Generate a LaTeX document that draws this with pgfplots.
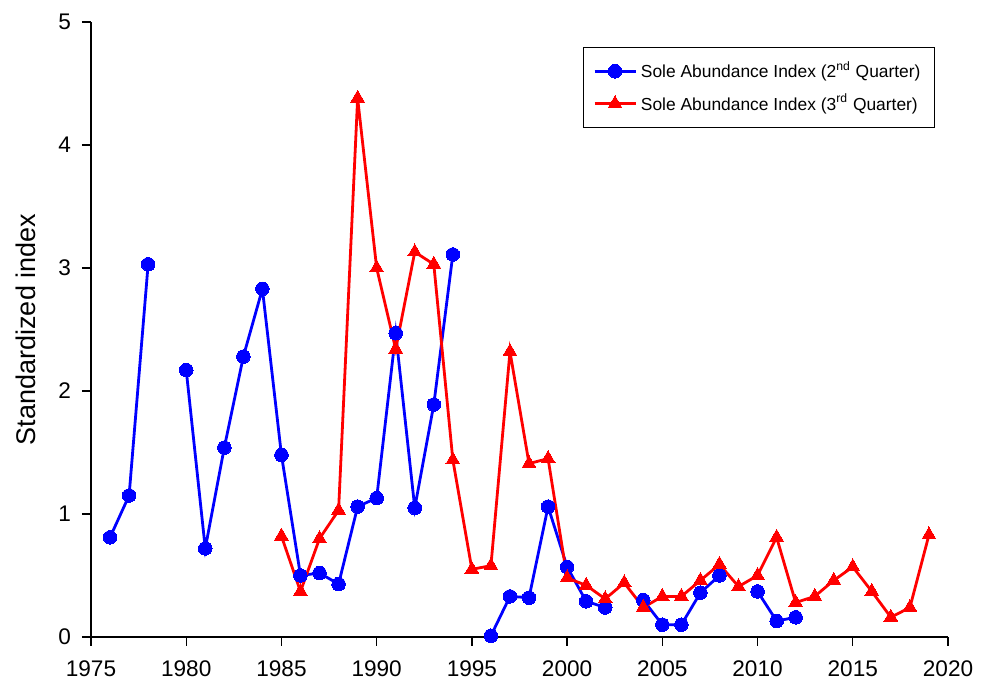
\documentclass[border=0pt]{standalone}
\usepackage{fontspec}
\setmainfont{Liberation Sans}
\usepackage{pgfplots}
\pgfplotsset{compat=1.18}
\definecolor{qblue}{RGB}{0,0,255}
\definecolor{qred}{RGB}{255,0,0}
\begin{document}
\begin{tikzpicture}
\begin{axis}[
  scale only axis,
  width=428.5pt, height=307.5pt,
  xmin=1975, xmax=2020, ymin=0, ymax=5,
  axis lines*=left,
  axis line style={line width=0.7pt},
  tick style={line width=0.7pt, black},
  tick align=outside,
  major tick length=4.5pt,
  xtick={1975,1980,...,2020},
  ytick={0,1,2,3,4,5},
  minor tick num=0,
  /pgf/number format/assume math mode=true,
  xticklabel style={/pgf/number format/1000 sep={}, font=\fontsize{11.3}{13}\selectfont, yshift=-4pt},
  yticklabel style={font=\fontsize{11.3}{13}\selectfont, xshift=-2pt},
  ylabel={Standardized index},
  ylabel style={font=\fontsize{13.5}{16}\selectfont, at={([xshift=-32.5pt]axis description cs:0,0.5)}, anchor=center, rotate=0},
  clip=false,
  unbounded coords=jump,
  legend cell align=left,
  legend style={at={(axis description cs:1,1)}, anchor=north east, xshift=-6.5pt, yshift=-12.5pt,
    draw=black, line width=0.5pt, font=\fontsize{8.7}{10}\selectfont,
    inner xsep=5pt, inner ysep=5pt, row sep=2.5pt},
  legend image code/.code={\draw[mark repeat=2,mark phase=2] plot coordinates {(0cm,0cm)(0.36cm,0cm)(0.72cm,0cm)};},
]
\addplot[qblue, line width=1.4pt, mark=*, mark size=3.4pt, mark options={fill=qblue, draw=qblue, line width=0pt}] coordinates {
(1976,0.81) (1977,1.15) (1978,3.03) (1979,nan) (1980,2.17) (1981,0.72) (1982,1.54) (1983,2.28) (1984,2.83)
(1985,1.48) (1986,0.50) (1987,0.52) (1988,0.43) (1989,1.06) (1990,1.13) (1991,2.47) (1992,1.05)
(1993,1.89) (1994,3.11) (1995,nan) (1996,0.01) (1997,0.33) (1998,0.32) (1999,1.06) (2000,0.57)
(2001,0.29) (2002,0.24) (2003,nan) (2004,0.30) (2005,0.10) (2006,0.10) (2007,0.36) (2008,0.50)
(2009,nan) (2010,0.37) (2011,0.13) (2012,0.16)
};
\addlegendentry{Sole Abundance Index (2\textsuperscript{nd} Quarter)}
\addplot[qred, line width=1.4pt, mark=triangle*, mark size=4pt, mark options={fill=qred, draw=qred, line width=0pt}] coordinates {
(1985,0.82) (1986,0.37) (1987,0.80) (1988,1.03) (1989,4.38) (1990,3.00) (1991,2.34) (1992,3.13)
(1993,3.03) (1994,1.44) (1995,0.55) (1996,0.58) (1997,2.32) (1998,1.41) (1999,1.45) (2000,0.48)
(2001,0.42) (2002,0.31) (2003,0.44) (2004,0.24) (2005,0.33) (2006,0.33) (2007,0.46) (2008,0.59)
(2009,0.41) (2010,0.50) (2011,0.81) (2012,0.28) (2013,0.33) (2014,0.46) (2015,0.57) (2016,0.37)
(2017,0.16) (2018,0.24) (2019,0.83)
};
\addlegendentry{Sole Abundance Index (3\textsuperscript{rd} Quarter)}
\path (rel axis cs:0,0) ++(-45.5pt,-23pt) coordinate (bbsw);
\path (rel axis cs:1,1) ++(19pt,11pt) coordinate (bbne);
\end{axis}
\useasboundingbox (bbsw) rectangle (bbne);
\end{tikzpicture}
\end{document}
